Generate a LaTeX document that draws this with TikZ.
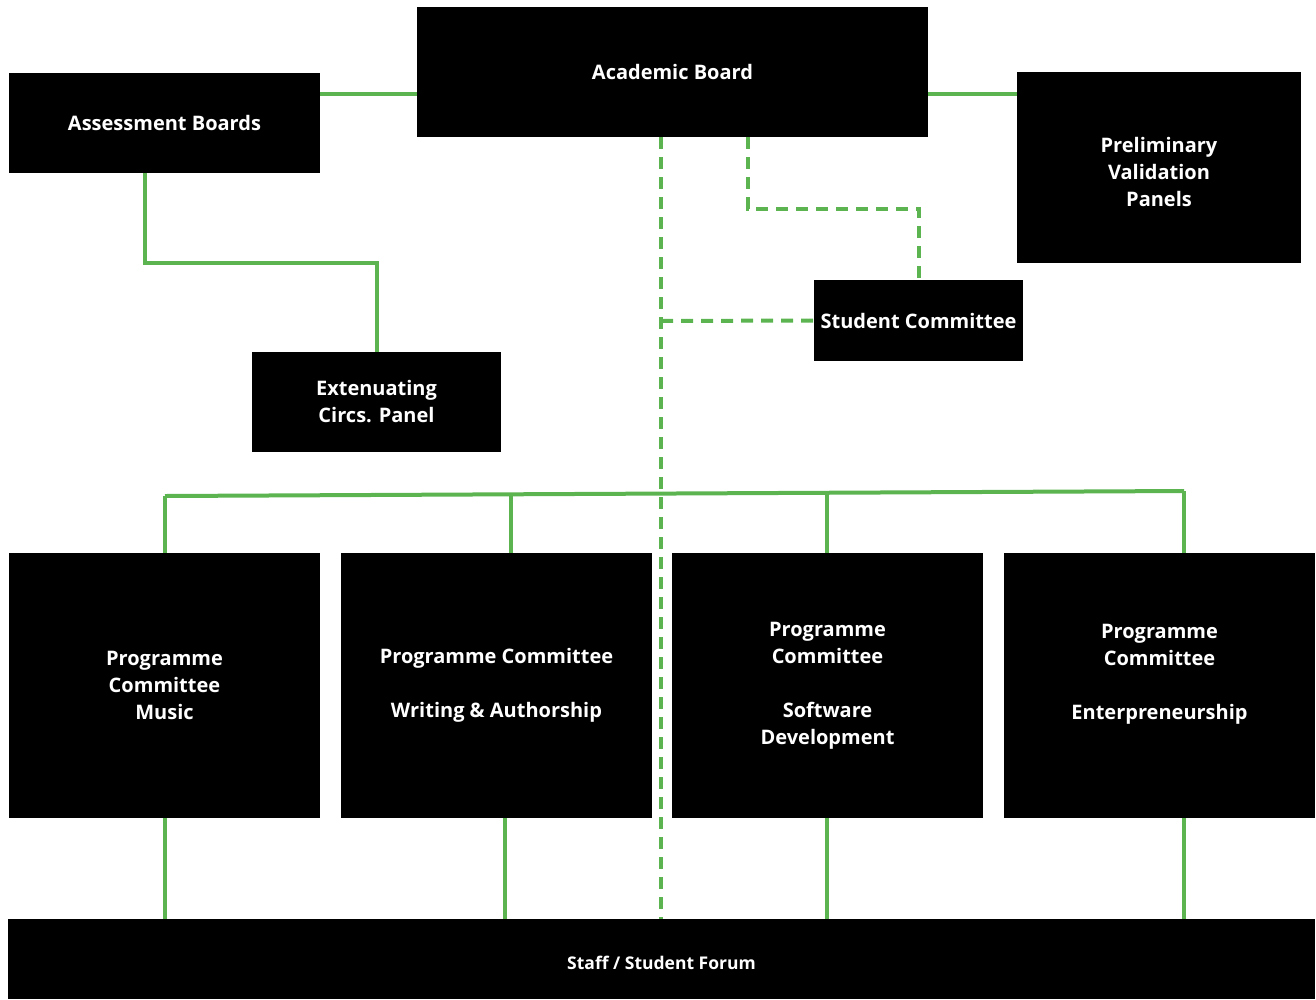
\documentclass[tikz,border=0pt]{standalone}
\usepackage{fontspec}
\setmainfont{Open Sans}
\usepackage{tikz}
\usetikzlibrary{calc}

\definecolor{linegreen}{RGB}{91,180,80}

% lower a label without changing the size TikZ sees
\newcommand{\dropby}[2]{\raisebox{-#1}[\height][\depth]{\begin{tabular}{@{}c@{}}#2\end{tabular}}}

\tikzset{
    blackbox/.style={fill=black, text=white, inner sep=0pt, align=center,
        font=\bfseries\fontsize{20}{27}\selectfont},
    solidline/.style={linegreen, line width=4pt},
    dashline/.style={linegreen, line width=4pt, dash pattern=on 12pt off 8pt}
}

\begin{document}
\begin{tikzpicture}[x=1pt,y=1pt,yscale=-1,xscale=1]
    \useasboundingbox (0,0) rectangle (1316,999);

    %Boxes: top row
    \node[blackbox, minimum width=511pt, minimum height=130pt] (acad) at (672.5,72) {\dropby{2pt}{Academic Board}};
    \node[blackbox, minimum width=311pt, minimum height=100pt] (assess) at (164.5,123) {Assessment Boards};
    \node[blackbox, minimum width=284pt, minimum height=191pt] (prelim) at (1159,167.5) {\dropby{7pt}{Preliminary\\Validation\\Panels}};
    \node[blackbox, minimum width=209pt, minimum height=81pt] (stucom) at (918.5,320.5) {Student Committee};
    \node[blackbox, minimum width=249pt, minimum height=100pt] (extcirc) at (376.5,402) {\dropby{2pt}{Extenuating\\Circs. Panel}};

    %Boxes: programme committees
    \node[blackbox, minimum width=311pt, minimum height=265pt] (progmus) at (164.5,685.5) {Programme\\Committee\\Music};
    \node[blackbox, minimum width=311pt, minimum height=265pt] (progwri) at (496.5,685.5) {Programme Committee\\[27pt]Writing \& Authorship};
    \node[blackbox, minimum width=311pt, minimum height=265pt] (progsof) at (827.5,685.5) {Programme\\Committee\\[27pt]Software\\Development};
    \node[blackbox, minimum width=311pt, minimum height=265pt] (progent) at (1159.5,685.5) {Programme\\Committee\\[27pt]Enterpreneurship\\~};

    %Forum
    \node[blackbox, minimum width=1307pt, minimum height=80pt, font=\bfseries\fontsize{17.5}{20}\selectfont] (forum) at (661.5,959) {\dropby{6pt}{Staff / Student Forum}};

    %Solid links
    \draw[solidline] (assess.east |- 0,94) -- (acad.west |- 0,94);
    \draw[solidline] (acad.east |- 0,94) -- (prelim.west |- 0,94);
    \draw[solidline] (assess.south -| 145,0) -- (145,263) -- (377,263) -- (extcirc.north -| 377,0);

    %Bus over the programme committees
    \coordinate (busL) at (165,496);
    \coordinate (busR) at (1184,491);
    \draw[solidline] (busL) -- (busR);
    \draw[solidline] (busL) -- (progmus.north -| busL);
    \draw[solidline] (511,494.3) -- (progwri.north -| 511,0);
    \draw[solidline] (827,492.7) -- (progsof.north -| 827,0);
    \draw[solidline] (busR) -- (progent.north -| busR);

    %Programme committees down to the forum
    \draw[solidline] (progmus.south -| 165,0) -- (forum.north -| 165,0);
    \draw[solidline] (progwri.south -| 505,0) -- (forum.north -| 505,0);
    \draw[solidline] (progsof.south -| 827,0) -- (forum.north -| 827,0);
    \draw[solidline] (progent.south -| 1184,0) -- (forum.north -| 1184,0);

    %Dashed links
    \draw[dashline] (acad.south -| 661,0) -- (forum.north -| 661,0);
    \draw[dashline] (661,321) -- (stucom.west);
    \draw[dashline] (acad.south -| 748,0) -- (748,209) -- (919,209) -- (stucom.north -| 919,0);
\end{tikzpicture}
\end{document}
